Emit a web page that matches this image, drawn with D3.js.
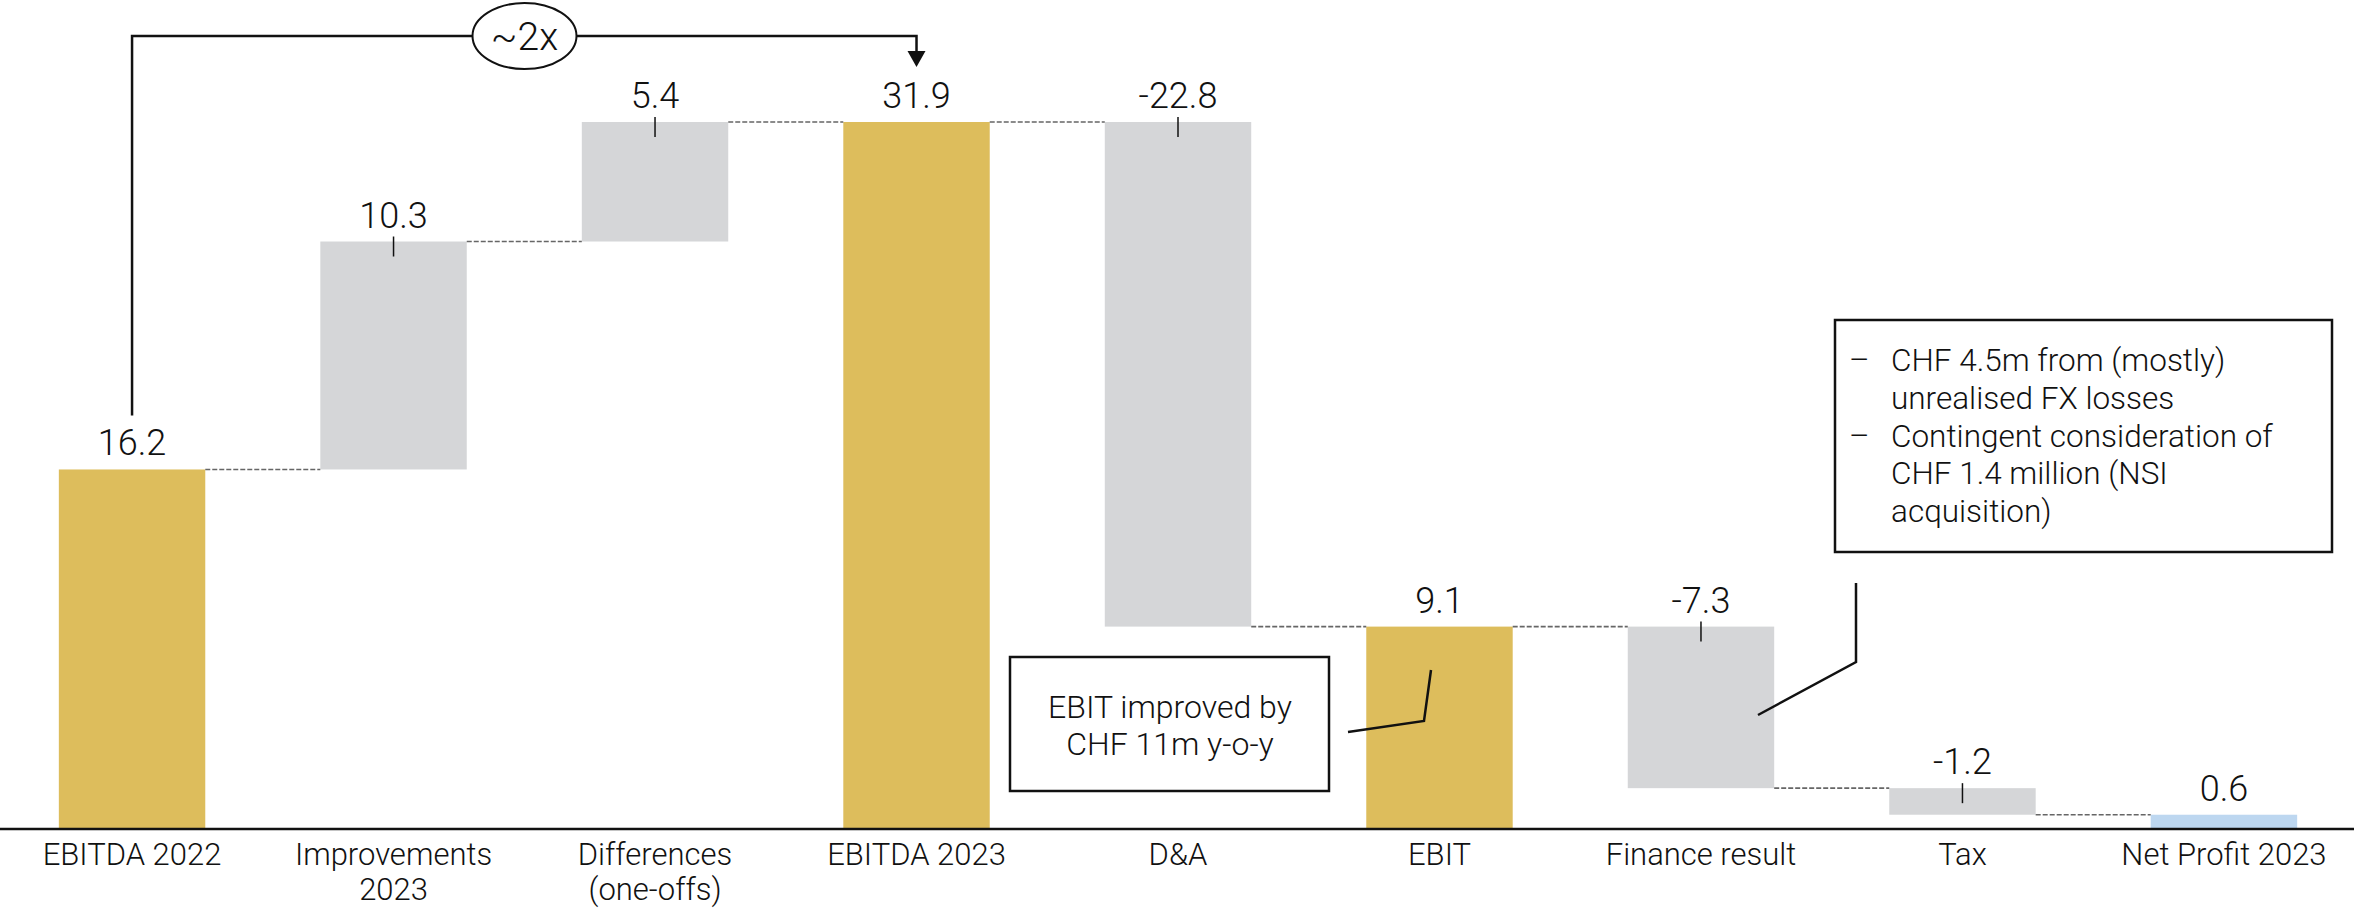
<!DOCTYPE html>
<html>
<head>
<meta charset="utf-8">
<script src="https://cdn.jsdelivr.net/npm/d3@7"></script>
<style>
  body { margin: 0; background: #fff; }
  text { font-family: Roboto, "Noto Sans", sans-serif; font-weight: 300; fill: #111; }
</style>
</head>
<body>
<div class="main"></div>
<script>
var width = 2356;
var height = 909;

// chart data
var categories = ["EBITDA 2022", "Improvements\n2023", "Differences\n(one-offs)", "EBITDA 2023", "D&A", "EBIT", "Finance result", "Tax", "Net Profit 2023"];
var values = [16.2, 10.3, 5.4, 31.9, -22.8, 9.1, -7.3, -1.2, 0.6];
var kinds = ["total", "delta", "delta", "total", "delta", "total", "delta", "delta", "net"];
var valueLabels = ["16.2", "10.3", "5.4", "31.9", "-22.8", "9.1", "-7.3", "-1.2", "0.6"];

var colors = { total: "#ddbd5c", delta: "#d5d6d8", net: "#bdd7f0" };

// work out start / end of each bar
var running = 0;
var bars = values.map(function (v, i) {
    var start, end;
    if (kinds[i] == "delta") {
        start = running;
        end = running + v;
    } else {
        start = 0;
        end = v;
    }
    running = end;
    return { cat: categories[i], value: v, kind: kinds[i], label: valueLabels[i], start: start, end: end };
});

var svg = d3.select(".main")
    .append("svg")
        .attr("width", width)
        .attr("height", height);

var xScale = d3.scaleBand()
    .domain(categories)
    .range([0, width])
    .paddingInner(0.44)
    .paddingOuter(0.225);

var yScale = d3.scaleLinear()
    .domain([0, 31.9])
    .range([828, 122]);

var bw = xScale.bandwidth();

// bars
svg.selectAll("rect.bar")
    .data(bars)
    .enter()
    .append("rect")
        .attr("class", "bar")
        .attr("x", d => xScale(d.cat))
        .attr("y", d => yScale(Math.max(d.start, d.end)))
        .attr("width", bw)
        .attr("height", d => Math.abs(yScale(d.start) - yScale(d.end)))
        .style("fill", d => colors[d.kind]);

// dashed connectors
svg.selectAll("line.conn")
    .data(bars.slice(0, -1))
    .enter()
    .append("line")
        .attr("x1", d => xScale(d.cat) + bw)
        .attr("x2", (d, i) => xScale(categories[i + 1]))
        .attr("y1", d => yScale(d.end))
        .attr("y2", d => yScale(d.end))
        .style("stroke", "#666")
        .style("stroke-width", 1.6)
        .style("stroke-dasharray", "5,2");

// axis line
var xAxis = d3.axisBottom(xScale).tickSize(0).tickFormat("");
svg.append("g")
    .attr("transform", "translate(0," + (yScale(0) + 1) + ")")
    .call(xAxis)
    .call(g => g.select(".domain").attr("d", "M0,0H" + (width - 2)).style("stroke", "#111").style("stroke-width", 2.5));

// category labels
var catText = svg.selectAll("text.cat")
    .data(categories)
    .enter()
    .append("text")
        .attr("class", "cat")
        .attr("text-anchor", "middle")
        .style("font-size", "31px");
catText.selectAll("tspan")
    .data(d => d.split("\n").map(s => ({ s: s, c: d })))
    .enter()
    .append("tspan")
        .attr("x", d => xScale(d.c) + bw / 2)
        .attr("y", (d, i) => 865 + i * 35)
        .text(d => d.s);

// value labels
svg.selectAll("text.val")
    .data(bars)
    .enter()
    .append("text")
        .attr("class", "val")
        .attr("text-anchor", "middle")
        .attr("x", d => xScale(d.cat) + bw / 2)
        .attr("y", d => yScale(Math.max(d.start, d.end)) - 14)
        .style("font-size", "36px")
        .text(d => d.label);

// little ticks on the delta bars
svg.selectAll("line.tick")
    .data(bars.filter(d => d.kind == "delta"))
    .enter()
    .append("line")
        .attr("x1", d => xScale(d.cat) + bw / 2)
        .attr("x2", d => xScale(d.cat) + bw / 2)
        .attr("y1", d => yScale(Math.max(d.start, d.end)) - 5)
        .attr("y2", d => yScale(Math.max(d.start, d.end)) + 15)
        .style("stroke", "#111")
        .style("stroke-width", 1.5);

// ~2x bracket
var bx1 = xScale(categories[0]) + bw / 2;
var bx2 = xScale(categories[3]) + bw / 2;
var by = 36;
svg.append("path")
    .attr("d", "M" + bx1 + "," + (yScale(values[0]) - 54) + "V" + by + "H" + bx2 + "V" + (yScale(values[3]) - 70))
    .style("fill", "none")
    .style("stroke", "#111")
    .style("stroke-width", 2.5);
svg.append("path")
    .attr("d", "M" + (bx2 - 9) + "," + (yScale(values[3]) - 71) + "L" + (bx2 + 9) + "," + (yScale(values[3]) - 71) + "L" + bx2 + "," + (yScale(values[3]) - 55) + "Z")
    .style("fill", "#111");
svg.append("ellipse")
    .attr("cx", 524.5)
    .attr("cy", by)
    .attr("rx", 52)
    .attr("ry", 33)
    .style("fill", "#fff")
    .style("stroke", "#111")
    .style("stroke-width", 2);
svg.append("text")
    .attr("x", 524.5)
    .attr("y", by + 14)
    .attr("text-anchor", "middle")
    .style("font-size", "39px")
    .text("~2x");

// EBIT note
svg.append("rect")
    .attr("x", 1010).attr("y", 657)
    .attr("width", 319).attr("height", 134)
    .style("fill", "#fff").style("stroke", "#111").style("stroke-width", 2.5);
svg.append("text")
    .attr("text-anchor", "middle")
    .style("font-size", "32px")
    .selectAll("tspan")
    .data(["EBIT improved by", "CHF 11m y-o-y"])
    .enter()
    .append("tspan")
        .attr("x", 1170)
        .attr("y", (d, i) => 718 + i * 37)
        .text(d => d);
svg.append("path")
    .attr("d", "M1348,732L1424,721L1431,670")
    .style("fill", "none").style("stroke", "#111").style("stroke-width", 2.5);

// finance note
var noteLines = [
    ["–", "CHF 4.5m from (mostly)"],
    ["", "unrealised FX losses"],
    ["–", "Contingent consideration of"],
    ["", "CHF 1.4 million (NSI"],
    ["", "acquisition)"]
];
svg.append("rect")
    .attr("x", 1835).attr("y", 320)
    .attr("width", 497).attr("height", 232)
    .style("fill", "#fff").style("stroke", "#111").style("stroke-width", 2.5);
var note = svg.append("g").style("font-size", "31.5px");
noteLines.forEach(function (l, i) {
    note.append("text").attr("x", 1849).attr("y", 371 + i * 37.8).text(l[0]);
    note.append("text").attr("x", 1891).attr("y", 371 + i * 37.8).text(l[1]);
});
svg.append("path")
    .attr("d", "M1856,583V662L1758,715")
    .style("fill", "none").style("stroke", "#111").style("stroke-width", 2.5);
</script>
</body>
</html>
